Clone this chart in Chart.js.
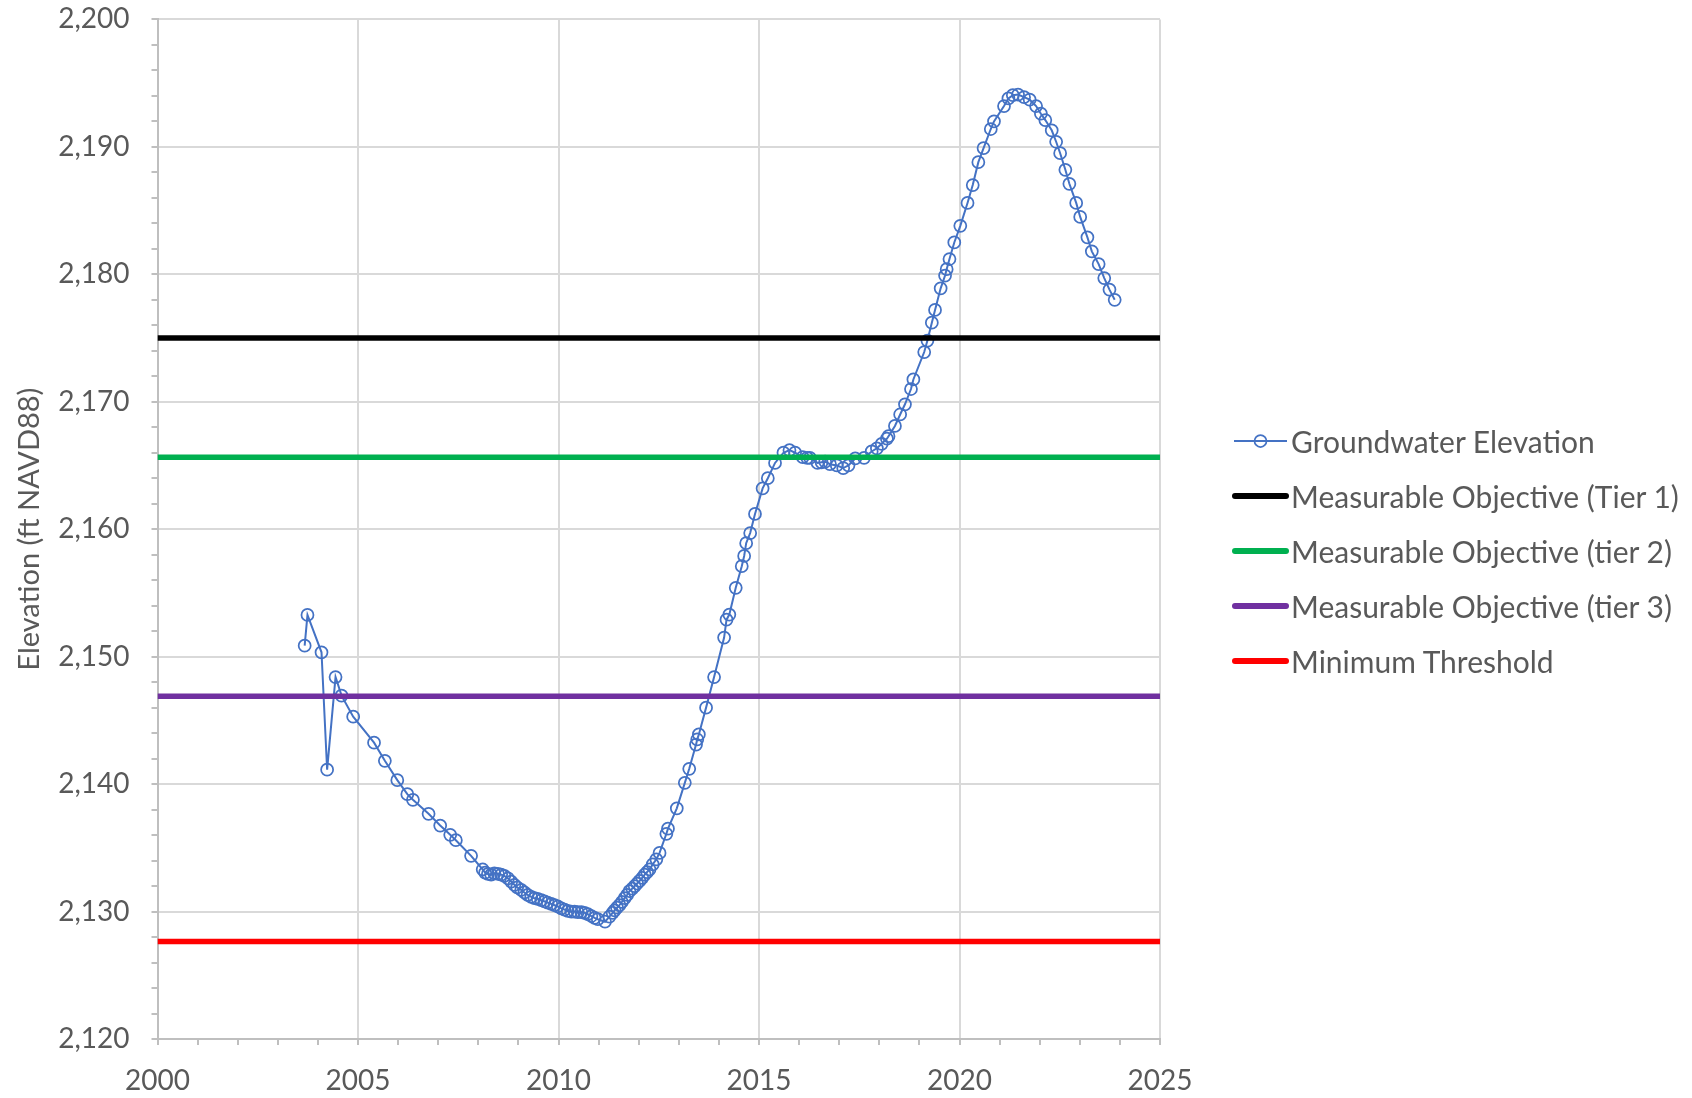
<!DOCTYPE html>
<html>
<head>
<meta charset="utf-8">
<title>Groundwater Elevation</title>
<script src="https://cdn.jsdelivr.net/npm/chart.js@4.4.1/dist/chart.umd.min.js"></script>
<style>
    html, body { margin: 0; padding: 0; background: #ffffff; }
    #wrap { position: relative; width: 1692px; height: 1098px; }
    #legend {
        position: absolute;
        left: 1232px;
        top: 413px;
        font-family: Lato, 'Open Sans', sans-serif;
        font-size: 30px;
        color: #595959;
    }
    .item { display: flex; align-items: center; height: 55px; white-space: nowrap; }
    .item svg { width: 57px; height: 20px; margin-right: 2px; flex: none; }
</style>
</head>
<body>
<div id="wrap">
    <canvas id="chart" width="1692" height="1098"></canvas>
    <div id="legend"></div>
</div>
<script>
// Dados (ano decimal, elevação em ft)
const sampleYears = [
    2003.67, 2003.74, 2004.09, 2004.23, 2004.44, 2004.59, 2004.88, 2005.40, 2005.67, 2005.98,
    2006.23, 2006.37, 2006.76, 2007.05, 2007.30, 2007.44, 2007.82, 2008.11, 2008.17, 2008.24,
    2008.32, 2008.40, 2008.49, 2008.57, 2008.65, 2008.74, 2008.82, 2008.90, 2008.97, 2009.07,
    2009.15, 2009.23, 2009.32, 2009.40, 2009.48, 2009.57, 2009.65, 2009.73, 2009.82, 2009.90,
    2009.98, 2010.07, 2010.15, 2010.23, 2010.32, 2010.40, 2010.48, 2010.57, 2010.65, 2010.73,
    2010.82, 2010.90, 2010.98, 2011.16, 2011.27, 2011.35, 2011.40, 2011.46, 2011.52, 2011.58,
    2011.65, 2011.71, 2011.77, 2011.84, 2011.90, 2011.96, 2012.02, 2012.09, 2012.15, 2012.21,
    2012.27, 2012.35, 2012.44, 2012.52, 2012.69, 2012.73, 2012.95, 2013.15, 2013.26, 2013.43,
    2013.46, 2013.50, 2013.68, 2013.88, 2014.13, 2014.19, 2014.26, 2014.42, 2014.57, 2014.63,
    2014.68, 2014.78, 2014.90, 2015.09, 2015.22, 2015.40, 2015.61, 2015.76, 2015.90, 2016.09,
    2016.20, 2016.27, 2016.46, 2016.56, 2016.65, 2016.77, 2016.94, 2017.10, 2017.23, 2017.40,
    2017.62, 2017.81, 2017.94, 2018.06, 2018.19, 2018.23, 2018.39, 2018.52, 2018.64, 2018.79,
    2018.85, 2019.12, 2019.20, 2019.31, 2019.39, 2019.53, 2019.64, 2019.68, 2019.75, 2019.87,
    2020.02, 2020.20, 2020.33, 2020.47, 2020.60, 2020.78, 2020.86, 2021.11, 2021.22, 2021.33,
    2021.46, 2021.61, 2021.75, 2021.91, 2022.03, 2022.14, 2022.30, 2022.41, 2022.51, 2022.64,
    2022.74, 2022.91, 2023.01, 2023.19, 2023.30, 2023.47, 2023.61, 2023.74, 2023.87
];

const groundwaterElevation = [
    2150.86, 2153.27, 2150.34, 2141.13, 2148.40, 2146.94, 2145.29, 2143.25, 2141.83, 2140.31,
    2139.21, 2138.77, 2137.67, 2136.75, 2136.02, 2135.60, 2134.37, 2133.30, 2133.05, 2132.95,
    2132.90, 2133.00, 2132.95, 2132.90, 2132.80, 2132.60, 2132.35, 2132.10, 2131.90, 2131.70,
    2131.50, 2131.30, 2131.15, 2131.05, 2131.00, 2130.90, 2130.80, 2130.70, 2130.60, 2130.50,
    2130.40, 2130.25, 2130.15, 2130.05, 2130.00, 2130.00, 2129.95, 2129.95, 2129.90, 2129.80,
    2129.65, 2129.50, 2129.40, 2129.20, 2129.60, 2129.90, 2130.10, 2130.30, 2130.50, 2130.75,
    2131.05, 2131.30, 2131.60, 2131.80, 2132.00, 2132.20, 2132.40, 2132.65, 2132.90, 2133.10,
    2133.30, 2133.70, 2134.10, 2134.60, 2136.10, 2136.50, 2138.10, 2140.10, 2141.20, 2143.10,
    2143.50, 2143.90, 2146.00, 2148.40, 2151.50, 2152.90, 2153.30, 2155.40, 2157.10, 2157.90,
    2158.90, 2159.70, 2161.20, 2163.20, 2164.00, 2165.20, 2166.00, 2166.20, 2166.00, 2165.65,
    2165.60, 2165.60, 2165.20, 2165.25, 2165.30, 2165.10, 2165.00, 2164.80, 2165.00, 2165.55,
    2165.60, 2166.10, 2166.35, 2166.70, 2167.10, 2167.30, 2168.10, 2169.00, 2169.80, 2171.00,
    2171.75, 2173.90, 2174.80, 2176.20, 2177.20, 2178.90, 2179.90, 2180.40, 2181.20, 2182.50,
    2183.80, 2185.60, 2187.00, 2188.80, 2189.90, 2191.40, 2192.00, 2193.20, 2193.80, 2194.05,
    2194.10, 2193.90, 2193.70, 2193.20, 2192.60, 2192.10, 2191.30, 2190.40, 2189.50, 2188.20,
    2187.10, 2185.60, 2184.50, 2182.90, 2181.80, 2180.80, 2179.70, 2178.80, 2178.00
];

const seriesName = 'Groundwater Elevation';
const thresholdNames = [
    'Measurable Objective (Tier 1)',
    'Measurable Objective (tier 2)',
    'Measurable Objective (tier 3)',
    'Minimum Threshold'
];
const thresholdLevels = [2175.0, 2165.65, 2146.9, 2127.65];
const thresholdSpan = [2000, 2025];

const xTickYears = [2000, 2005, 2010, 2015, 2020, 2025];
const yTickValues = [2120, 2130, 2140, 2150, 2160, 2170, 2180, 2190, 2200];
const axisTitle = 'Elevation (ft NAVD88)';

// Estilos
const seriesColor = '#4472c4';
const thresholdColors = ['#000000', '#00b050', '#7030a0', '#ff0000'];
const textColor = '#595959';
const gridColor = '#d9d9d9';
const axisColor = '#bfbfbf';
const fontFamily = "Lato, 'Open Sans', sans-serif";

// Datasets
const seriesDataset = {
    label: seriesName,
    data: sampleYears.map((year, i) => ({ x: year, y: groundwaterElevation[i] })),
    showLine: true,
    borderColor: seriesColor,
    borderWidth: 2,
    pointRadius: 6,
    pointHoverRadius: 6,
    pointBorderWidth: 1.75,
    pointBorderColor: seriesColor,
    pointBackgroundColor: 'rgba(0,0,0,0)',
    order: 1
};

const thresholdDatasets = thresholdNames.map((name, i) => ({
    label: name,
    data: thresholdSpan.map(x => ({ x: x, y: thresholdLevels[i] })),
    showLine: true,
    borderColor: thresholdColors[i],
    borderWidth: 5.5,
    pointRadius: 0,
    pointHoverRadius: 0,
    order: 0
}));

new Chart(document.getElementById('chart'), {
    type: 'scatter',
    data: { datasets: [seriesDataset, ...thresholdDatasets] },
    options: {
        responsive: false,
        animation: false,
        events: [],
        layout: { padding: { top: 0, right: 532, left: 0, bottom: 0 } },
        plugins: {
            legend: { display: false },
            tooltip: { enabled: false }
        },
        scales: {
            x: {
                type: 'linear',
                min: xTickYears[0],
                max: xTickYears[xTickYears.length - 1],
                afterFit: (scale) => { scale.height = 59; },
                ticks: {
                    stepSize: 1,
                    autoSkip: false,
                    maxRotation: 0,
                    padding: 19,
                    color: textColor,
                    font: { family: fontFamily, size: 28 },
                    callback: (value) => xTickYears.includes(value) ? String(value) : ''
                },
                grid: {
                    color: (ctx) => ctx.tick && xTickYears.includes(ctx.tick.value) ? gridColor : 'rgba(0,0,0,0)',
                    lineWidth: 2,
                    tickColor: axisColor,
                    tickLength: 6
                },
                border: { color: axisColor, width: 2 }
            },
            y: {
                type: 'linear',
                min: yTickValues[0],
                max: yTickValues[yTickValues.length - 1],
                // largura do eixo e margem superior fixas, como no original
                afterFit: (scale) => {
                    scale.width = 157.5;
                    scale.paddingTop = 19.4;
                },
                ticks: {
                    stepSize: 2,
                    autoSkip: false,
                    padding: 22,
                    color: textColor,
                    font: { family: fontFamily, size: 28 },
                    callback: (value) => yTickValues.includes(value) ? value.toLocaleString('en-US') : ''
                },
                grid: {
                    color: (ctx) => ctx.tick && yTickValues.includes(ctx.tick.value) ? gridColor : 'rgba(0,0,0,0)',
                    lineWidth: 2,
                    tickColor: axisColor,
                    tickLength: 6
                },
                border: { color: axisColor, width: 2 },
                title: {
                    display: true,
                    text: axisTitle,
                    color: textColor,
                    font: { family: fontFamily, size: 29 },
                    padding: { top: 12, bottom: 0 }
                }
            }
        }
    }
});

// Legenda em HTML
function swatch(color, width, withMarker) {
    const marker = withMarker
        ? `<circle cx="28.5" cy="10" r="6" fill="none" stroke="${color}" stroke-width="1.75"/>`
        : '';
    const cap = withMarker ? 'butt' : 'round';
    const x1 = withMarker ? 2 : 3;
    const x2 = withMarker ? 55 : 54;
    return `<svg viewBox="0 0 57 20"><line x1="${x1}" y1="10" x2="${x2}" y2="10" stroke="${color}" stroke-width="${width}" stroke-linecap="${cap}"/>${marker}</svg>`;
}

const legend = document.getElementById('legend');
const legendRows = [{ name: seriesName, html: swatch(seriesColor, 2, true) }]
    .concat(thresholdNames.map((name, i) => ({ name: name, html: swatch(thresholdColors[i], 6, false) })));

legendRows.forEach(row => {
    const div = document.createElement('div');
    div.className = 'item';
    div.innerHTML = row.html + `<span>${row.name}</span>`;
    legend.appendChild(div);
});
</script>
</body>
</html>
